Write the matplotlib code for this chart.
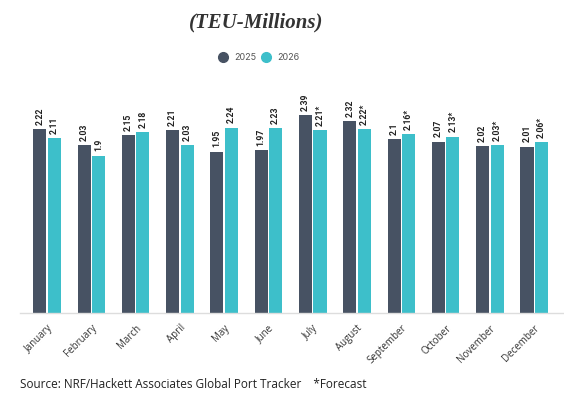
import matplotlib
matplotlib.use("Agg")
import matplotlib.pyplot as plt
import numpy as np

months = ["January", "February", "March", "April", "May", "June", "July",
          "August", "September", "October", "November", "December"]
v2025 = [2.22, 2.03, 2.15, 2.21, 1.95, 1.97, 2.39, 2.32, 2.10, 2.07, 2.02, 2.01]
v2026 = [2.11, 1.90, 2.18, 2.03, 2.24, 2.23, 2.21, 2.22, 2.16, 2.13, 2.03, 2.06]
lab2025 = ["2.22", "2.03", "2.15", "2.21", "1.95", "1.97", "2.39", "2.32", "2.1", "2.07", "2.02", "2.01"]
lab2026 = ["2.11", "1.9", "2.18", "2.03", "2.24", "2.23", "2.21*", "2.22*", "2.16*", "2.13*", "2.03*", "2.06*"]
series_names = ["2025", "2026"]

c_dark = "#475263"
c_teal = "#3dbfca"

W, H = 564, 400
fig = plt.figure(figsize=(W / 100, H / 100), dpi=100)
ax = fig.add_axes([20 / W, (H - 313) / H, (563 - 20) / W, (313 - 97.7) / H])

x = np.arange(len(months))
bw = 0.295
off = 0.163
b1 = ax.bar(x - off, v2025, bw, color=c_dark, zorder=2)
b2 = ax.bar(x + off, v2026, bw, color=c_teal, zorder=2)

for bars, labs in ((b1, lab2025), (b2, lab2026)):
    for r, t in zip(bars, labs):
        ax.annotate(t, (r.get_x() + r.get_width() / 2, r.get_height()),
                    xytext=(0, 3), textcoords="offset points",
                    rotation=90, ha="center", va="bottom",
                    fontsize=6.2, fontweight="bold", family="Roboto",
                    color="#222222")

ax.set_xlim(-0.61, 11.65)
ax.set_ylim(0, 2.6)
ax.set_yticks([])
for s in ("top", "right", "left"):
    ax.spines[s].set_visible(False)
ax.spines["bottom"].set_color("#dddddd")
ax.spines["bottom"].set_linewidth(1)
ax.set_xticks(x)
ax.set_xticklabels(months, rotation=45, ha="right", rotation_mode="anchor",
                   fontsize=7, family="Open Sans", color="#333333")
ax.tick_params(axis="x", length=0, pad=7)

fig.text(256 / W, 1 - 22 / H, "(TEU-Millions)", ha="center", va="center",
         fontsize=15, fontweight="bold", fontstyle="italic",
         family="Liberation Serif", color="#333333")

leg_y = 1 - 57 / H
fig.lines.append(plt.Line2D([223 / W], [leg_y], marker="o", markersize=7,
                            color=c_dark, linestyle="none",
                            transform=fig.transFigure, figure=fig))
fig.lines.append(plt.Line2D([266 / W], [leg_y], marker="o", markersize=7,
                            color=c_teal, linestyle="none",
                            transform=fig.transFigure, figure=fig))
fig.text(234 / W, leg_y, series_names[0], ha="left", va="center", fontsize=6.5,
         family="Inter", color="#555555")
fig.text(277 / W, leg_y, series_names[1], ha="left", va="center", fontsize=6.5,
         family="Inter", color="#555555")

fig.text(20 / W, 1 - 385 / H,
         "Source: NRF/Hackett Associates Global Port Tracker    *Forecast",
         ha="left", va="center", fontsize=8.5, family="Open Sans", color="#222222")

fig.savefig("out.png", dpi=100, facecolor="white")
